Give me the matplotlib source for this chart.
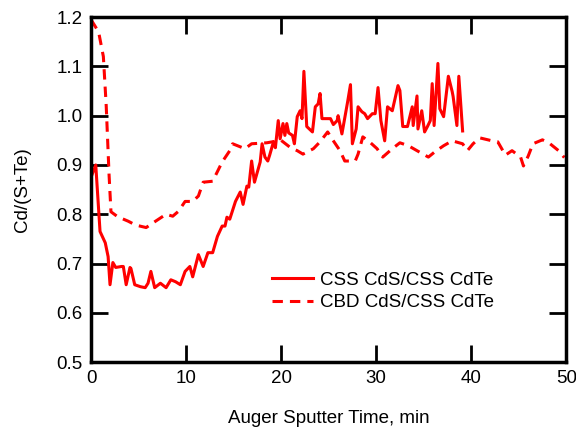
import numpy as np
import matplotlib
matplotlib.use("Agg")
import matplotlib.pyplot as plt

plt.rcParams['font.family'] = ['Liberation Sans', 'DejaVu Sans']

# CSS CdS/CSS CdTe (solid)
css_t = [0.0, 0.5, 0.95, 1.5, 1.8, 2.0, 2.3, 2.6, 3.2, 3.4, 3.7, 4.1, 4.2, 4.6, 5.2,
         5.7, 6.0, 6.3, 6.7, 7.3, 7.9, 8.4, 8.9, 9.4, 9.9, 10.4, 10.7, 11.3, 11.8, 12.3,
         12.8, 13.3, 13.8, 14.1, 14.3, 14.6, 15.2, 15.7, 16.0, 16.4, 16.6, 16.9, 17.2, 17.8,
         18.0, 18.3, 18.6, 18.8, 19.2, 19.4, 19.7, 19.9, 20.2, 20.4, 20.6, 20.8, 21.2, 21.4,
         21.7, 22.0, 22.2, 22.4, 22.7, 23.3, 23.6, 23.9, 24.1, 24.3, 25.2, 25.5, 25.9, 26.0,
         26.4, 27.0, 27.3, 27.5, 27.9, 28.1, 28.5, 28.8, 29.1, 29.6, 29.9, 30.2, 30.5, 30.9,
         31.2, 31.7, 32.3, 32.5, 32.8, 33.3, 33.8, 33.9, 34.3, 34.4, 34.8, 35.1, 35.4, 35.7,
         35.9, 36.1, 36.5, 36.7, 37.1, 37.6, 38.0, 38.1, 38.5, 38.7, 39.1]
css_r = [0.875, 0.900, 0.765, 0.742, 0.714, 0.657, 0.702, 0.692, 0.694, 0.694, 0.657, 0.692, 0.690, 0.657, 0.653,
         0.651, 0.660, 0.684, 0.651, 0.660, 0.651, 0.667, 0.663, 0.657, 0.684, 0.694, 0.673, 0.718, 0.694, 0.722,
         0.722, 0.755, 0.776, 0.776, 0.794, 0.790, 0.826, 0.845, 0.820, 0.857, 0.855, 0.908, 0.865, 0.906,
         0.943, 0.916, 0.908, 0.920, 0.947, 0.935, 0.990, 0.953, 0.984, 0.960, 0.984, 0.965, 0.960, 0.943,
         0.998, 1.010, 0.994, 1.090, 0.978, 0.967, 1.018, 1.024, 1.045, 0.994, 0.994, 0.982, 0.990, 1.000,
         0.963, 1.028, 1.063, 0.943, 0.973, 1.018, 1.008, 1.004, 0.994, 1.004, 1.004, 1.057, 0.990, 0.949,
         1.018, 1.010, 1.061, 1.051, 0.978, 0.978, 1.018, 0.980, 1.040, 0.973, 1.010, 0.967, 0.978, 0.990,
         1.065, 0.980, 1.106, 1.014, 0.998, 1.080, 1.049, 1.039, 0.980, 1.080, 0.969]

# CBD CdS/CSS CdTe (dashed)
cbd_t = [0.0, 0.8, 1.3, 1.6, 1.9, 2.1, 2.8, 3.9, 4.7, 5.8, 6.8, 7.9, 8.6, 9.2, 9.9,
         10.7, 11.3, 11.8, 12.8, 13.8, 14.6, 14.9, 16.2, 16.9, 18.5, 20.0, 21.0, 21.7, 22.3,
         23.4, 24.1, 24.9, 25.5, 26.2, 26.7, 27.8, 28.1, 28.6, 29.3, 30.1, 30.7, 31.7, 32.5,
         33.4, 34.3, 35.5, 36.2, 37.1, 38.0, 39.1, 39.6, 40.2, 40.9, 42.2, 42.8, 43.6, 44.3,
         45.2, 45.5, 46.0, 46.5, 47.5, 48.3, 49.2, 49.8]
cbd_r = [1.195, 1.170, 1.120, 1.020, 0.880, 0.805, 0.795, 0.786, 0.778, 0.773, 0.786, 0.800, 0.796, 0.806, 0.826,
         0.826, 0.837, 0.865, 0.867, 0.906, 0.929, 0.943, 0.933, 0.943, 0.945, 0.950, 0.935, 0.929, 0.922,
         0.933, 0.947, 0.967, 0.949, 0.929, 0.908, 0.908, 0.922, 0.957, 0.947, 0.933, 0.916, 0.933, 0.945,
         0.939, 0.929, 0.916, 0.927, 0.939, 0.949, 0.943, 0.929, 0.943, 0.955, 0.949, 0.947, 0.920, 0.929,
         0.916, 0.898, 0.918, 0.943, 0.951, 0.943, 0.929, 0.915]

fig = plt.figure(figsize=(5.76, 4.28), dpi=100)
ax = fig.add_axes([0.158, 0.154, 0.825, 0.806])

ax.plot(css_t, css_r, color="red", lw=2.2, label="CSS CdS/CSS CdTe")
ax.plot(cbd_t, cbd_r, color="red", lw=2.2, linestyle=(0, (3.4, 2.3)), label="CBD CdS/CSS CdTe")

ax.set_xlim(0, 50)
ax.set_ylim(0.5, 1.2)
ax.set_xticks([0, 10, 20, 30, 40, 50])
ax.set_yticks(np.arange(0.5, 1.21, 0.1))
ax.set_yticklabels(["0.5", "0.6", "0.7", "0.8", "0.9", "1.0", "1.1", "1.2"])
ax.tick_params(direction="in", length=12, width=2, top=True, right=True,
               labelsize=13.5, pad=6)
for s in ax.spines.values():
    s.set_linewidth(2.5)

ax.set_xlabel("Auger Sputter Time, min", fontsize=13.5, labelpad=16)
ax.set_ylabel("Cd/(S+Te)", fontsize=13.5, labelpad=18)

ax.legend(loc="center left", bbox_to_anchor=(0.345, 0.205), frameon=False,
          fontsize=13.5, handlelength=2.2, handletextpad=0.35, labelspacing=0.3)

fig.savefig("out.png", dpi=100)
